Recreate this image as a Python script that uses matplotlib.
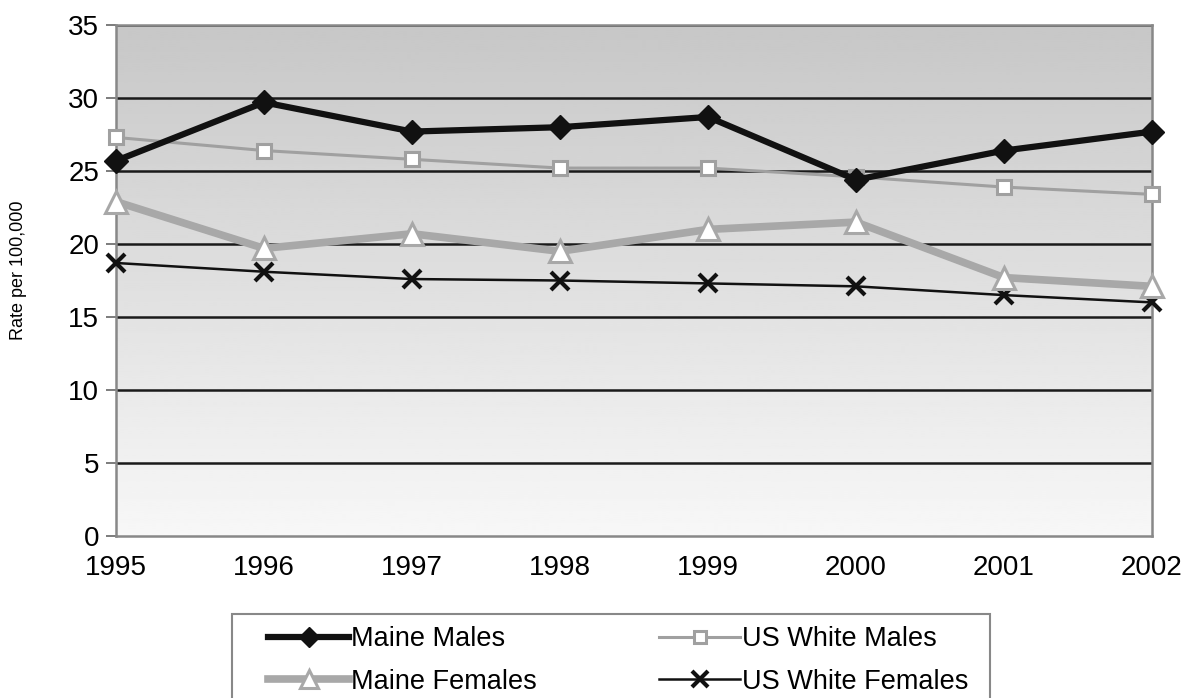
#!/usr/bin/env python

import matplotlib
matplotlib.use("Agg")
import matplotlib.pyplot as plt
from matplotlib.patches import Rectangle
import numpy as np

# Values
years = [1995, 1996, 1997, 1998, 1999, 2000, 2001, 2002]
maine_males = [25.7, 29.7, 27.7, 28.0, 28.7, 24.4, 26.4, 27.7]
us_white_males = [27.3, 26.4, 25.8, 25.2, 25.2, 24.6, 23.9, 23.4]
maine_females = [22.9, 19.7, 20.7, 19.5, 21.0, 21.5, 17.7, 17.1]
us_white_females = [18.7, 18.1, 17.6, 17.5, 17.3, 17.1, 16.5, 16.0]
y_ticks = [0, 5, 10, 15, 20, 25, 30, 35]

plt.rcParams['font.family'] = ['Liberation Sans', 'DejaVu Sans']

W, H = 1185, 698
fig = plt.figure(figsize=(W / 100, H / 100), dpi=100)
ax = fig.add_axes([116 / W, 1 - 536 / H, (1152 - 116) / W, (536 - 25) / H])

# grey-to-white vertical gradient behind the plot
grad = np.linspace(0.78, 0.97, 256).reshape(-1, 1)
ax.imshow(grad, extent=[0, 1, 0, 1], transform=ax.transAxes, aspect='auto',
          cmap='gray', vmin=0, vmax=1, origin='upper', zorder=0)

for y in y_ticks[1:]:
  ax.axhline(y, color='#1a1a1a', linewidth=1.8, zorder=1)

ax.plot(years, us_white_females, color='#111111', linewidth=1.8, marker='x',
        markersize=13, markeredgewidth=3, label='US White Females', zorder=3,
        clip_on=False)
ax.plot(years, us_white_males, color='#a0a0a0', linewidth=2.2, marker='s',
        markersize=10, markerfacecolor='white', markeredgecolor='#a0a0a0',
        markeredgewidth=2.2, label='US White Males', zorder=4, clip_on=False)
ax.plot(years, maine_females, color='#a8a8a8', linewidth=5.5, marker='^',
        markersize=16, markerfacecolor='white', markeredgecolor='#a8a8a8',
        markeredgewidth=2.2, label='Maine Females', zorder=5, clip_on=False)
ax.plot(years, maine_males, color='#111111', linewidth=4.5, marker='D',
        markersize=12, markerfacecolor='#111111', label='Maine Males', zorder=6,
        clip_on=False)

ax.set_xlim(years[0], years[-1])
ax.set_ylim(0, 35)
ax.set_xticks(years)
ax.set_yticks(y_ticks)
ax.tick_params(axis='both', labelsize=20, color='#666666', width=1.2)
ax.tick_params(axis='y', length=7, pad=5)
ax.tick_params(axis='x', length=0, pad=14)
for side in ['left', 'bottom', 'right', 'top']:
  ax.spines[side].set_color('#888888')
  ax.spines[side].set_linewidth(1.8)
  ax.spines[side].set_zorder(2)
ax.set_ylabel('Rate per 100,000', fontsize=13)
ax.yaxis.set_label_coords(-0.086, 0.52)

handles, labels = ax.get_legend_handles_labels()
order = [3, 2, 1, 0]  # Maine Males, Maine Females, US White Males, US White Females
fig.legend([handles[i] for i in order], [labels[i] for i in order],
           loc='upper left', bbox_to_anchor=(268 / W, 1 - 626 / H),
           ncol=2, fontsize=19.5, frameon=False, handlelength=3.0,
           handletextpad=0.08, labelspacing=0.62, borderpad=0,
           borderaxespad=0, columnspacing=4.5, markerscale=0.85)

# legend frame (bottom runs off the image, as in the reference)
fig.patches.append(Rectangle((232 / W, -0.02), (990 - 232) / W, 0.02 + (698 - 614) / H,
                             transform=fig.transFigure, fill=False,
                             edgecolor='#888888', linewidth=1.5))

fig.savefig('out.png', dpi=100)
